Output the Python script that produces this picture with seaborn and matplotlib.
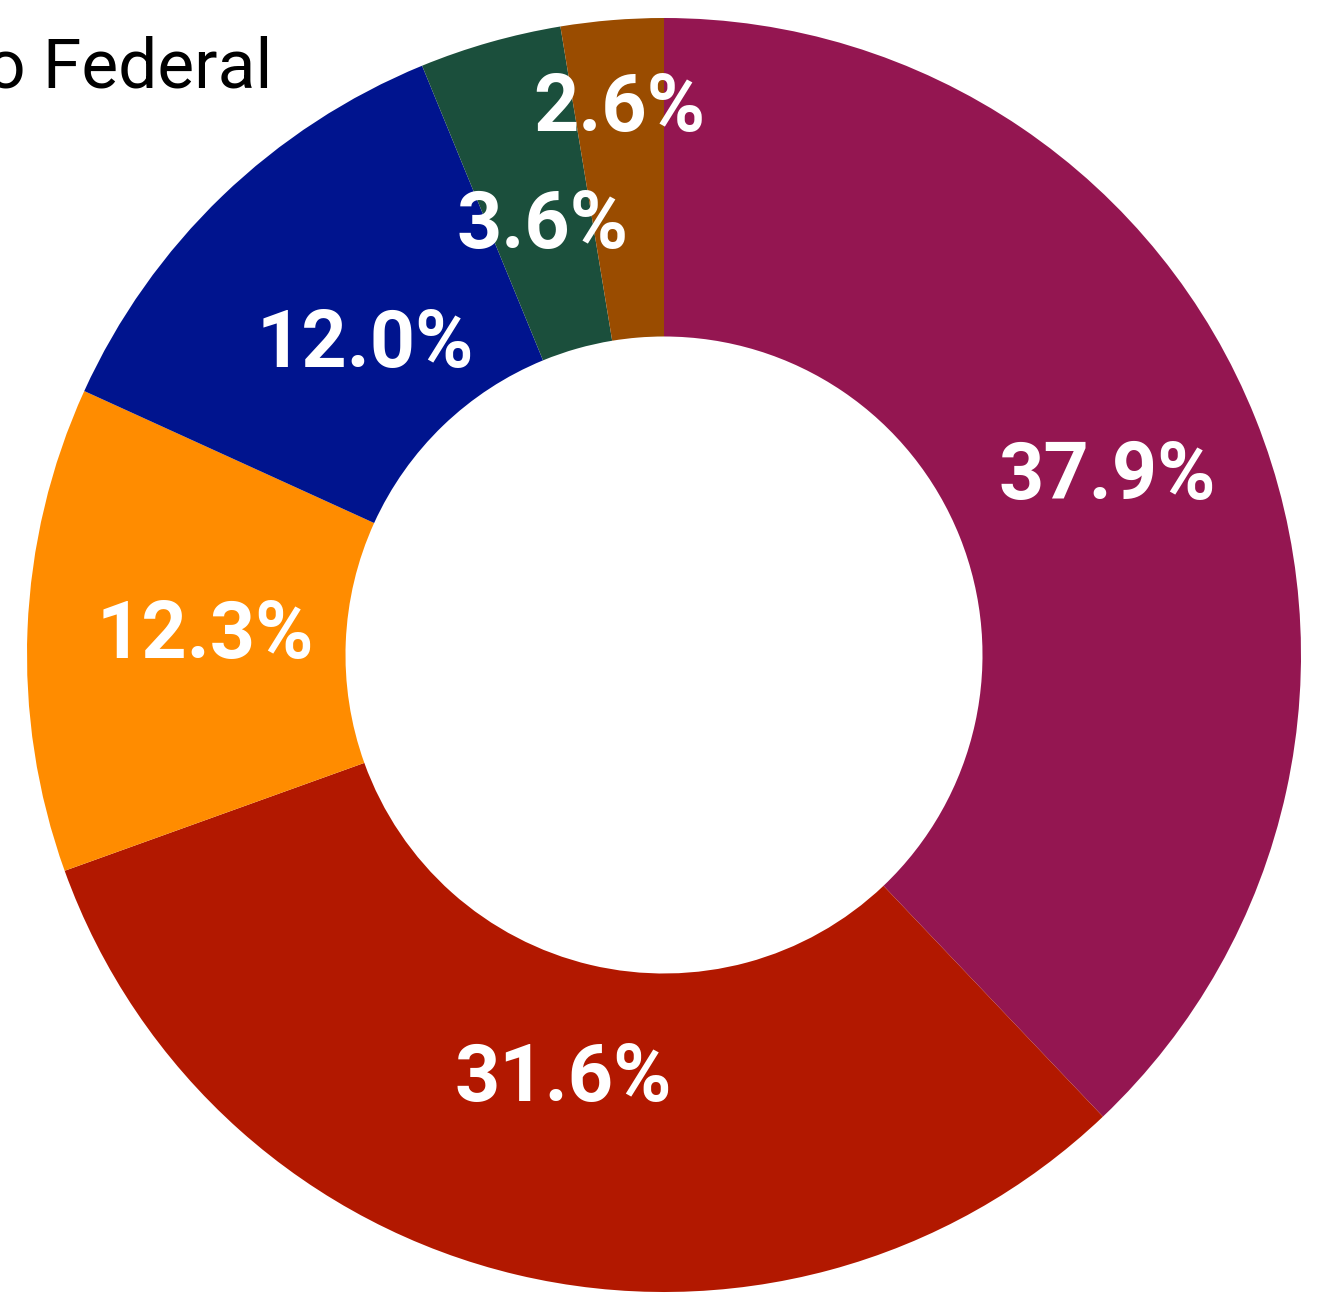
import matplotlib
matplotlib.use("Agg")
import matplotlib.pyplot as plt
import seaborn as sns
import numpy as np

# --- data ---
categories = ['A', 'B', 'C', 'D', 'E', 'F']
shares = [37.9, 31.6, 12.3, 12.0, 3.6, 2.6]
labels = ['37.9%', '31.6%', '12.3%', '12.0%', '3.6%', '2.6%']
colors = ['#941651', '#b21800', '#ff8c00', '#00148e', '#1b4f3c', '#9a4c00']
title_text = 'o Federal'

sns.set_theme(style='white')
plt.rcParams['font.family'] = ['Roboto', 'DejaVu Sans']

fig = plt.figure(figsize=(13.2, 12.96), dpi=100)
ax = fig.add_axes([0, 0, 1, 1])

# donut, clockwise from 12 o'clock
wedges, _ = ax.pie(shares, colors=colors, startangle=90, counterclock=False,
                   radius=1.0, wedgeprops=dict(width=0.5, linewidth=0))

# label radius per slice (as placed in the original)
label_r = [0.75, 0.685, 0.72, 0.675, 0.70, 0.86]
cum = np.cumsum([0] + shares[:-1])
for s, c, lab, r in zip(shares, cum, labels, label_r):
    ang = np.deg2rad(90 - (c + s / 2) * 3.6)
    ax.text(r * np.cos(ang), r * np.sin(ang), lab, ha='center', va='center',
            color='white', fontsize=57, fontweight='bold')

# map pixels: center (664, 655), radius 637 px
cx, cy, rp = 664, 655, 637
ax.set_xlim(-cx / rp, (1320 - cx) / rp)
ax.set_ylim(-(1296 - cy) / rp, cy / rp)
ax.set_aspect('equal')
ax.axis('off')

fig.text(272 / 1320, 1 - 88 / 1296, title_text, ha='right', va='baseline',
         fontsize=50, color='black')

plt.savefig('out.png', dpi=100)
